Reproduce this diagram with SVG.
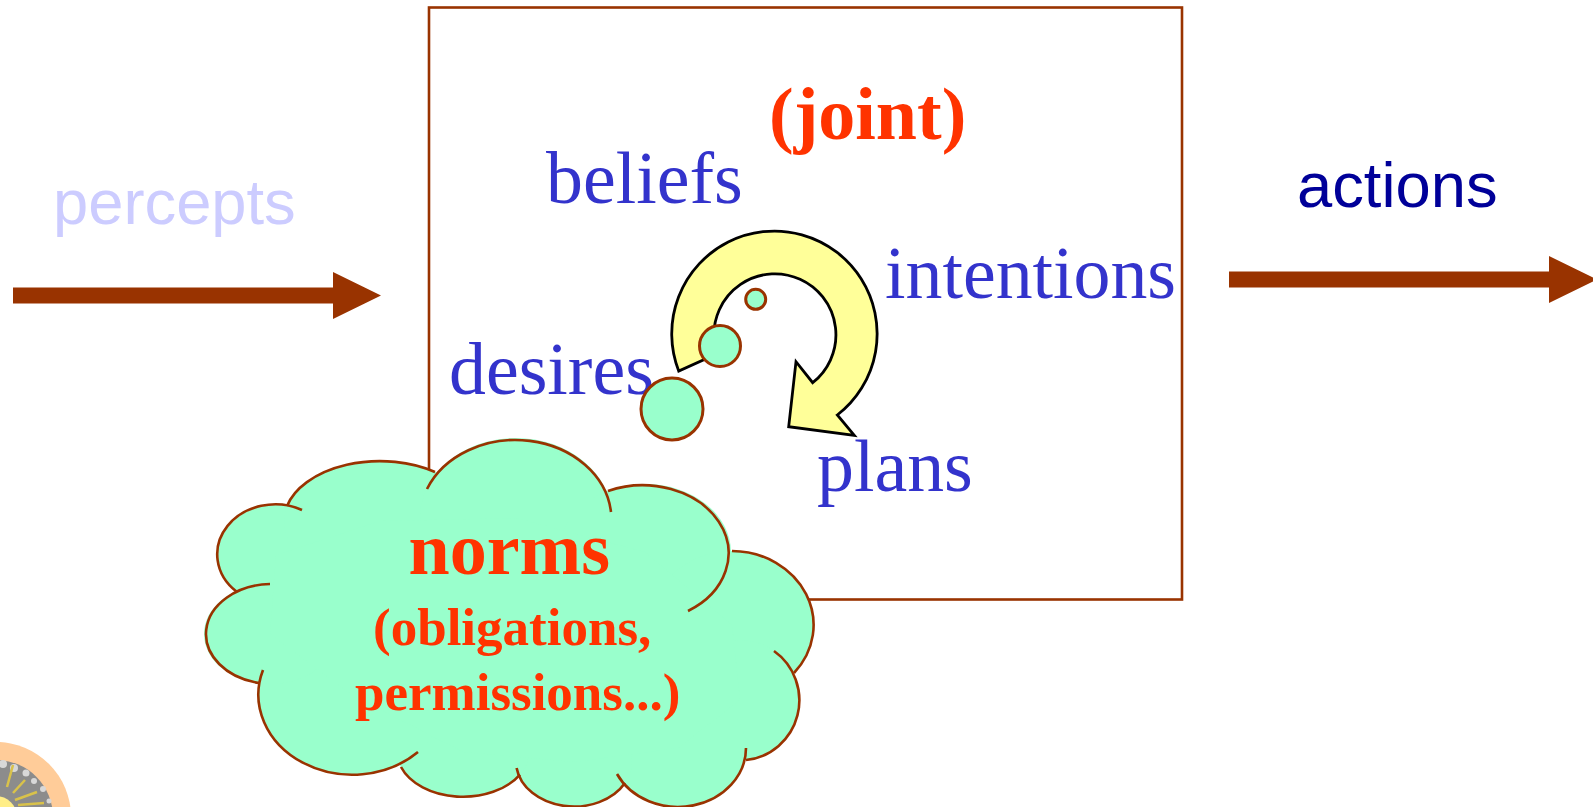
<svg xmlns="http://www.w3.org/2000/svg" width="1593" height="807" viewBox="0 0 1593 807">
<style>
.ser{font-family:"Liberation Serif","Times New Roman",serif}
.san{font-family:"Liberation Sans",Arial,sans-serif;font-size:63.3px}
.blue{fill:#3333CC;font-size:73.8px}
.red{fill:#FF3300;font-weight:bold}
.mint{fill:#99FFCC;stroke:#993300;stroke-width:3}
.arr{fill:#993300}
.lobe{fill:none;stroke:#993300;stroke-width:2.6}
</style>
<rect width="1593" height="807" fill="#FFFFFF"/>
<g id="logo">
<circle cx="-4" cy="817" r="75" fill="#FFCC99"/>
<circle cx="-4" cy="817" r="57" fill="#8C8C8C"/>
<g fill="#D8D8D8">
<circle cx="3" cy="764" r="4"/><circle cx="14" cy="768" r="4"/><circle cx="26" cy="773" r="3.5"/><circle cx="34" cy="781" r="3"/><circle cx="43" cy="789" r="3"/><circle cx="49" cy="801" r="2.5"/>
</g>
<path d="M7 787L13 765M13 793L25 780M15 800L37 792M18 805L44 803" stroke="#D9C24A" stroke-width="2.5" fill="none"/>
<circle cx="-4" cy="817" r="21" fill="#FFEE88"/>
</g>
<g id="agent-box">
<rect x="429" y="7.5" width="753" height="592" fill="#FFFFFF" stroke="#993300" stroke-width="2.6"/>
</g>
<g id="connectors">
<path class="arr" d="M13 287.5H333V272L381 295.5L333 319V303.5H13Z"/>
<path class="arr" d="M1229 271.5H1549V256L1597 279.5L1549 303V287.5H1229Z"/>
</g>
<g id="percepts"><text class="san" x="53" y="223.5" fill="#CCCCFF">percepts</text></g>
<g id="actions"><text class="san" x="1297" y="207" fill="#000099">actions</text></g>
<g id="joint"><text class="ser red" x="769" y="139" font-size="74">(joint)</text></g>
<g id="beliefs"><text class="ser blue" x="546" y="203">beliefs</text></g>
<g id="intentions"><text class="ser blue" x="885" y="298">intentions</text></g>
<g id="desires"><text class="ser blue" x="449" y="394">desires</text></g>
<g id="plans"><text class="ser blue" x="817" y="491">plans</text></g>
<g id="cycle">
<path d="M678.7 371A102.7 102.7 0 1 1 837.3 415L854.3 435.3L788.7 426.7L796 361.7L812.7 382.7A61 61 0 1 0 714 338L712 356Z" fill="#FFFF99" stroke="#000000" stroke-width="2.8"/>
</g>
<g id="bubble-small"><circle class="mint" cx="755.7" cy="299.3" r="10"/></g>
<g id="bubble-medium"><circle class="mint" cx="720" cy="346" r="20.5"/></g>
<g id="bubble-large"><circle class="mint" cx="672" cy="409" r="31"/></g>
<g id="norms">
<g fill="#99FFCC">
<ellipse cx="276" cy="555" rx="58" ry="50"/>
<ellipse cx="380" cy="521" rx="96" ry="60"/>
<ellipse cx="516" cy="518" rx="96" ry="80"/>
<ellipse cx="645" cy="552" rx="86" ry="68"/>
<ellipse cx="732" cy="625" rx="82" ry="74"/>
<ellipse cx="740" cy="700" rx="59" ry="60"/>
<ellipse cx="678" cy="748" rx="68" ry="59"/>
<ellipse cx="574" cy="762" rx="58" ry="45"/>
<ellipse cx="463" cy="752" rx="66" ry="45"/>
<ellipse cx="352" cy="695" rx="94" ry="80"/>
<ellipse cx="270" cy="634" rx="66" ry="50"/>
<path d="M276 555L380 521L516 518L645 552L732 625L740 700L678 748L574 762L463 752L352 695L270 634Z"/>
</g>
<path class="lobe" d="M236.4 591.5A58 50 0 0 1 302 510"/>
<path class="lobe" d="M287 506A96 60 0 0 1 435 472"/>
<path class="lobe" d="M427 489A96 80 0 0 1 611 512"/>
<path class="lobe" d="M608 491A86 68 0 0 1 688 611"/>
<path class="lobe" d="M732 551A82 74 0 0 1 794 673"/>
<path class="lobe" d="M774 651A59 60 0 0 1 746 760"/>
<path class="lobe" d="M746 748A68 59 0 0 1 617 774"/>
<path class="lobe" d="M625 783A58 45 0 0 1 516.6 768"/>
<path class="lobe" d="M520 774.6A66 45 0 0 1 401 767"/>
<path class="lobe" d="M418 752A94 80 0 0 1 263 670"/>
<path class="lobe" d="M259 683A66 50 0 0 1 270 584"/>
<text class="ser red" x="408.5" y="574" font-size="74">norms</text>
<text class="ser red" x="373" y="645" font-size="53">(obligations,</text>
<text class="ser red" x="355" y="710" font-size="53">permissions...)</text>
</g>
</svg>
